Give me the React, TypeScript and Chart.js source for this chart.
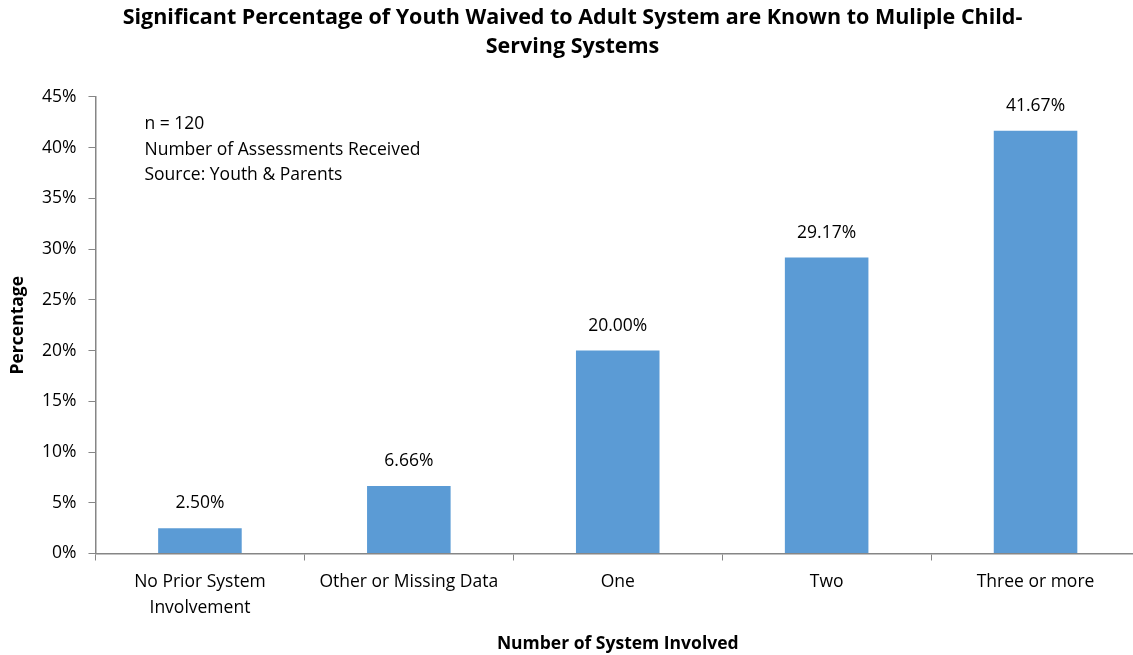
import React, { useEffect, useRef } from "react";
import { Chart, registerables } from "chart.js";

Chart.register(...registerables);

const categories: (string | string[])[] = [
  ["No Prior System", "Involvement"],
  "Other or Missing Data",
  "One",
  "Two",
  "Three or more",
];
const percentages = [2.5, 6.66, 20.0, 29.17, 41.67];
const titleLines = [
  "Significant Percentage of Youth Waived to Adult System are Known to Muliple Child-",
  "Serving Systems",
];
const noteLines = ["n = 120", "Number of Assessments Received", "Source: Youth & Parents"];
const xAxisTitle = "Number of System Involved";
const yAxisTitle = "Percentage";
const yMin = 0;
const yMax = 45;
const yStep = 5;

const FONT = "'Open Sans', sans-serif";
const FS = 17.5;
const TEXT = "#000000";
const AXIS = "#868686";
const BAR = "#5B9BD5";

const valueLabels = {
  id: "valueLabels",
  afterDatasetsDraw(chart: any) {
    const ctx = chart.ctx;
    const meta = chart.getDatasetMeta(0);
    ctx.save();
    ctx.font = `${FS}px ${FONT}`;
    ctx.fillStyle = TEXT;
    ctx.textAlign = "center";
    ctx.textBaseline = "middle";
    meta.data.forEach((bar: any, i: number) => {
      ctx.fillText(percentages[i].toFixed(2) + "%", bar.x, bar.y - 25);
    });
    ctx.restore();
  },
};

const notes = {
  id: "notes",
  afterDraw(chart: any) {
    const ctx = chart.ctx;
    const { left, top } = chart.chartArea;
    ctx.save();
    ctx.font = `${FS}px ${FONT}`;
    ctx.fillStyle = TEXT;
    ctx.textAlign = "left";
    ctx.textBaseline = "middle";
    noteLines.forEach((line, i) => {
      ctx.fillText(line, left + 49, top + 27.5 + i * 25.5);
    });
    ctx.restore();
  },
};

export default function App() {
  const ref = useRef<HTMLCanvasElement | null>(null);
  useEffect(() => {
    if (!ref.current) return;
    const chart = new Chart(ref.current, {
      type: "bar",
      data: {
        labels: categories,
        datasets: [
          {
            data: percentages,
            backgroundColor: BAR,
            borderWidth: 0,
            categoryPercentage: 1,
            barPercentage: 0.4,
          },
        ],
      },
      options: {
        responsive: false,
        animation: false,
        devicePixelRatio: 1,
        layout: { padding: { left: 5, right: 5, top: 3, bottom: 0 } },
        plugins: {
          legend: { display: false },
          tooltip: { enabled: false },
          title: {
            display: true,
            text: titleLines,
            color: TEXT,
            font: { family: FONT, size: 21.5, weight: "bold", lineHeight: 1.37 },
            padding: { top: 0, bottom: 35 },
          },
        },
        scales: {
          x: {
            grid: { drawOnChartArea: false, drawTicks: true, tickLength: 7, color: AXIS, offset: true },
            border: { color: AXIS, width: 1.5 },
            ticks: { color: TEXT, font: { family: FONT, size: FS, lineHeight: 1.5 }, padding: 8, maxRotation: 0, autoSkip: false },
            title: {
              display: true,
              text: xAxisTitle,
              color: TEXT,
              font: { family: FONT, size: FS, weight: "bold" },
              padding: { top: 5, bottom: 0 },
            },
          },
          y: {
            min: yMin,
            max: yMax,
            grid: { drawOnChartArea: false, drawTicks: true, tickLength: 7, color: AXIS },
            border: { color: AXIS, width: 1.5 },
            ticks: {
              stepSize: yStep,
              color: TEXT,
              font: { family: FONT, size: FS },
              padding: 12,
              callback: (v: any) => v + "%",
            },
            title: {
              display: true,
              text: yAxisTitle,
              color: TEXT,
              font: { family: FONT, size: FS, weight: "bold" },
              padding: { top: 3, bottom: 1 },
            },
          },
        },
      },
      plugins: [valueLabels, notes],
    });
    return () => chart.destroy();
  }, []);
  return (
    <div style={{ position: "absolute", left: 0, top: 0, width: 1133, height: 655, overflow: "hidden", background: "#fff" }}>
      <canvas ref={ref} width={1145} height={655} style={{ display: "block" }} />
    </div>
  );
}
